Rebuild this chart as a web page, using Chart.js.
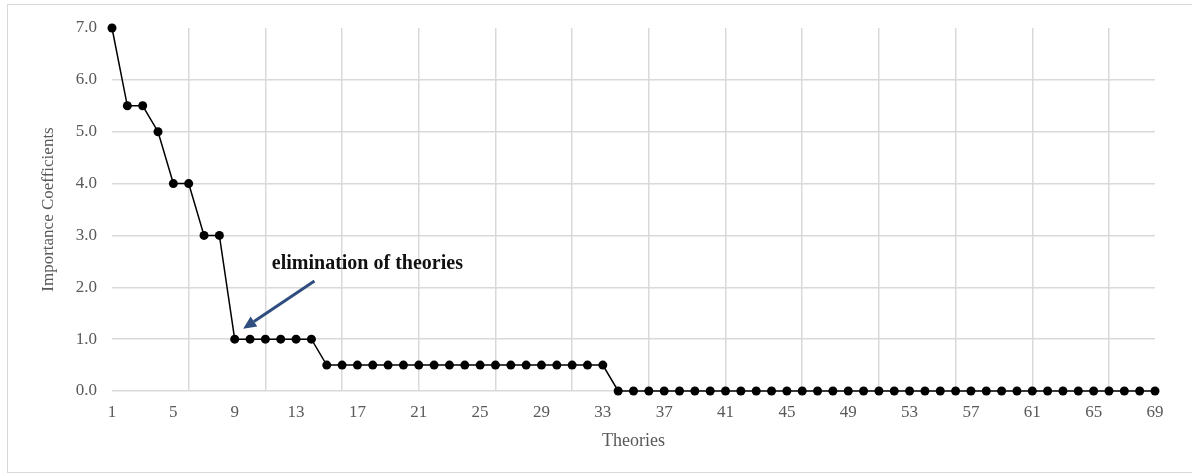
<!DOCTYPE html>
<html lang="en">
<head>
    <meta charset="UTF-8">
    <title>Importance Coefficients of Theories</title>
    <script src="https://cdn.jsdelivr.net/npm/chart.js"></script>
    <style>
        body {
            margin: 0;
            background: #ffffff;
            overflow: hidden;
        }
        .frame {
            position: absolute;
            left: 7px;
            top: 4px;
            width: 1200px;
            height: 467px;
            border: 1.5px solid #d9d9d9;
        }
        .chart-box {
            position: absolute;
            left: 0;
            top: 0;
            width: 1192px;
            height: 475px;
        }
    </style>
</head>
<body>
    <div class="frame"></div>
    <div class="chart-box">
        <canvas id="theoryChart" width="1192" height="475"></canvas>
    </div>

    <script>
        // Theories 1..69
        const theories = [
            '1','2','3','4','5','6','7','8','9','10',
            '11','12','13','14','15','16','17','18','19','20',
            '21','22','23','24','25','26','27','28','29','30',
            '31','32','33','34','35','36','37','38','39','40',
            '41','42','43','44','45','46','47','48','49','50',
            '51','52','53','54','55','56','57','58','59','60',
            '61','62','63','64','65','66','67','68','69'
        ];

        // Importance coefficient of each theory
        const coefficients = [
            7.0, 5.5, 5.5, 5.0, 4.0, 4.0, 3.0, 3.0, 1.0, 1.0,
            1.0, 1.0, 1.0, 1.0, 0.5, 0.5, 0.5, 0.5, 0.5, 0.5,
            0.5, 0.5, 0.5, 0.5, 0.5, 0.5, 0.5, 0.5, 0.5, 0.5,
            0.5, 0.5, 0.5, 0.0, 0.0, 0.0, 0.0, 0.0, 0.0, 0.0,
            0.0, 0.0, 0.0, 0.0, 0.0, 0.0, 0.0, 0.0, 0.0, 0.0,
            0.0, 0.0, 0.0, 0.0, 0.0, 0.0, 0.0, 0.0, 0.0, 0.0,
            0.0, 0.0, 0.0, 0.0, 0.0, 0.0, 0.0, 0.0, 0.0
        ];

        // labels shown on the x axis
        const xTickLabels = ['1','5','9','13','17','21','25','29','33','37','41','45','49','53','57','61','65','69'];
        // categories carrying a vertical gridline
        const xGridAt = ['6','11','16','21','26','31','36','41','46','51','56','61','66'];

        // annotation text and arrow, in (category index, value) units
        const noteText = 'elimination of theories';
        const notePos = [10.42, 2.45];
        const arrowFrom = [13.2, 2.12];
        const arrowTo = [8.55, 1.2];

        const serif = "'Liberation Serif', 'Times New Roman', serif";
        const gridColor = '#d9d9d9';

        // draws the "elimination of theories" note with its arrow
        const notePlugin = {
            id: 'note',
            afterDatasetsDraw(chart) {
                const ctx = chart.ctx;
                const xs = chart.scales.x;
                const ys = chart.scales.y;

                ctx.save();
                ctx.font = 'bold 20px ' + serif;
                ctx.fillStyle = '#111111';
                ctx.textAlign = 'left';
                ctx.textBaseline = 'middle';
                ctx.fillText(noteText, xs.getPixelForValue(notePos[0]), ys.getPixelForValue(notePos[1]));

                const x1 = xs.getPixelForValue(arrowFrom[0]);
                const y1 = ys.getPixelForValue(arrowFrom[1]);
                const x2 = xs.getPixelForValue(arrowTo[0]);
                const y2 = ys.getPixelForValue(arrowTo[1]);
                const ang = Math.atan2(y2 - y1, x2 - x1);
                const headLen = 13;
                const headW = 6;
                const bx = x2 - headLen * Math.cos(ang);
                const by = y2 - headLen * Math.sin(ang);

                ctx.strokeStyle = '#2f4d7f';
                ctx.fillStyle = '#2f4d7f';
                ctx.lineWidth = 3;
                ctx.beginPath();
                ctx.moveTo(x1, y1);
                ctx.lineTo(bx, by);
                ctx.stroke();

                ctx.beginPath();
                ctx.moveTo(x2, y2);
                ctx.lineTo(bx + headW * Math.sin(ang), by - headW * Math.cos(ang));
                ctx.lineTo(bx - headW * Math.sin(ang), by + headW * Math.cos(ang));
                ctx.closePath();
                ctx.fill();
                ctx.restore();
            }
        };

        const ctx = document.getElementById('theoryChart').getContext('2d');
        new Chart(ctx, {
            type: 'line',
            data: {
                labels: theories,
                datasets: [{
                    label: 'Importance Coefficients',
                    data: coefficients,
                    borderColor: '#000000',
                    backgroundColor: '#000000',
                    borderWidth: 1.5,
                    pointRadius: 4.5,
                    pointBackgroundColor: '#000000',
                    pointBorderWidth: 0,
                    tension: 0,
                    clip: false
                }]
            },
            options: {
                responsive: false,
                animation: false,
                devicePixelRatio: 1,
                layout: {
                    padding: { left: 38, right: 37, top: 28, bottom: 23 }
                },
                plugins: {
                    legend: { display: false },
                    tooltip: { enabled: false }
                },
                scales: {
                    x: {
                        offset: false,
                        border: { display: false },
                        grid: {
                            drawTicks: false,
                            lineWidth: 1.5,
                            color: (c) => xGridAt.includes(theories[c.index]) ? gridColor : 'rgba(0,0,0,0)'
                        },
                        ticks: {
                            autoSkip: false,
                            maxRotation: 0,
                            padding: 11,
                            color: '#595959',
                            font: { family: serif, size: 17 },
                            callback: (v, i) => xTickLabels.includes(theories[i]) ? theories[i] : ''
                        },
                        title: {
                            display: true,
                            text: 'Theories',
                            color: '#595959',
                            font: { family: serif, size: 18 },
                            padding: 0
                        },
                        afterFit: (scale) => { scale.height = 61; }
                    },
                    y: {
                        min: 0,
                        max: 7,
                        border: { display: false },
                        grid: {
                            drawTicks: false,
                            lineWidth: 1.5,
                            color: (c) => c.tick && c.tick.value === 7 ? 'rgba(0,0,0,0)' : gridColor
                        },
                        ticks: {
                            stepSize: 1,
                            padding: 15,
                            color: '#595959',
                            font: { family: serif, size: 17 },
                            callback: (v) => Number(v).toFixed(1)
                        },
                        title: {
                            display: true,
                            text: 'Importance Coefficients',
                            color: '#595959',
                            font: { family: serif, size: 17 },
                            padding: 0
                        },
                        afterFit: (scale) => { scale.width = 74; }
                    }
                }
            },
            plugins: [notePlugin]
        });
    </script>
</body>
</html>
